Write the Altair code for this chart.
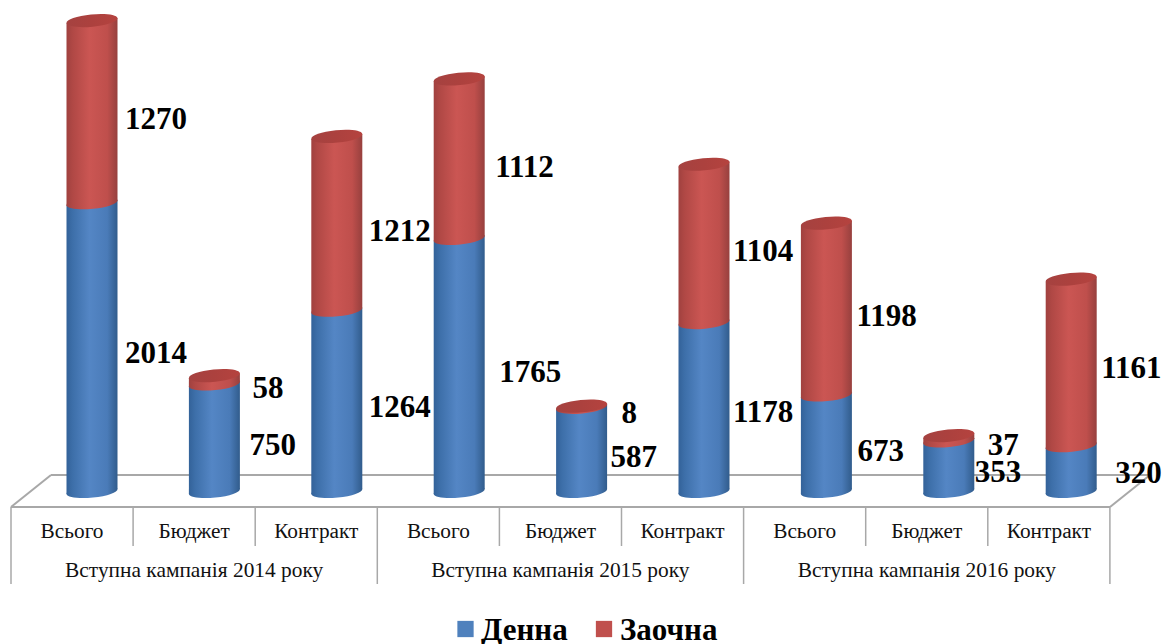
import altair as alt
import pandas as pd

# ---- values ----
subcats = ["Всього", "Бюджет", "Контракт"] * 3
campaigns = ["Вступна кампанія 2014 року", "Вступна кампанія 2015 року", "Вступна кампанія 2016 року"]
denna = [2014, 750, 1264, 1765, 587, 1178, 673, 353, 320]
zaochna = [1270, 58, 1212, 1112, 8, 1104, 1198, 37, 1161]
series = ["Денна", "Заочна"]

# ---- label nudges (px) from the segment midpoint / bar centre ----
denna_dx = [33, 35, 32, 40, 29, 29, 31, 26, 44]
denna_dy = [7, 8, 7, 8, 9, 6, 9, 7, 5]
zaochna_dx = [33, 38, 32, 36, 40, 29, 30, 39, 30]
zaochna_dy = [8, 9, 9, 9, 7, 9, 8, 8, 7]

W, H = 1154, 636
PX = 0.1434            # px per value
X0, STEP = 84.0, 122.4 # first bar centre, bar spacing
Y0 = 483.5             # zero line
FONT = "Liberation Serif"
HALF = 25.5 / STEP     # half bar width in index units
TILT = 2.5 / PX        # tilt of the cylinder ends in value units
TABLE_STEP = 122.1 / STEP   # table cells are slightly narrower than the bar spacing
TABLE_LEFT = -81.0 / STEP   # left table edge relative to the first bar centre

xs = alt.Scale(domain=[-X0 / STEP, (W - X0) / STEP], nice=False, zero=False)
ys = alt.Scale(domain=[(Y0 - H) / PX, Y0 / PX], nice=False, zero=False)
X = lambda f: alt.X(f, type="quantitative", scale=xs, axis=None)
Y = lambda f: alt.Y(f, type="quantitative", scale=ys, axis=None)

def grad(stops):
    return {"gradient": "linear", "x1": 0, "x2": 1, "y1": 0, "y2": 0,
            "stops": [{"offset": o, "color": c} for o, c in stops]}

BLUE = grad([(0, "#336299"), (0.12, "#3d6fa9"), (0.45, "#5486c5"), (0.8, "#4a7bb8"), (1, "#315c8c")])
RED = grad([(0, "#a0413f"), (0.12, "#b04845"), (0.45, "#cb5653"), (0.8, "#bf4f4c"), (1, "#97403e")])
CAP = grad([(0, "#a54240"), (0.5, "#ac413e"), (1, "#b5433f")])
ELL = "M-1,0.1 A1,0.24 -5.5 1 1 1,-0.1 A1,0.24 -5.5 1 1 -1,0.1 Z"
SIZE = 51 ** 2

bars = pd.DataFrame({"i": range(9), "d": denna, "z": zaochna,
                     "top": [a + b for a, b in zip(denna, zaochna)], "base": [0] * 9})

def body(lo, hi):
    out = []
    for i, (a, b) in enumerate(zip(lo, hi)):
        out.append(dict(bar=i, x=i - HALF, y=b - TILT, y2=a - TILT))
        out.append(dict(bar=i, x=i + HALF, y=b + TILT, y2=a + TILT))
    return pd.DataFrame(out)

tot = list(bars["top"])
LINE = "#a8a8a8"
layers = []
ONE = pd.DataFrame({"a": [0]})

def seg(x1, y1, x2, y2, w=2):
    return alt.Chart(ONE).mark_rule(color=LINE, strokeWidth=w).encode(
        x=alt.value(x1), y=alt.value(y1), x2=alt.value(x2), y2=alt.value(y2))

# floor
layers += [seg(43, 467, 1142, 467), seg(3, 499, 43, 467), seg(1102, 499, 1142, 467), seg(3, 499, 1102, 499)]

# table separators
edge = lambda k: TABLE_LEFT + k * TABLE_STEP
short = pd.DataFrame({"x": [edge(k) for k in range(10) if k % 3 != 0]})
long_ = pd.DataFrame({"x": [edge(k) for k in range(10) if k % 3 == 0]})
layers.append(alt.Chart(short).mark_rule(color=LINE, strokeWidth=1.5).encode(
    x=X("x"), y=alt.value(499), y2=alt.value(538)))
layers.append(alt.Chart(long_).mark_rule(color=LINE, strokeWidth=1.5).encode(
    x=X("x"), y=alt.value(499), y2=alt.value(576)))

# table text
t1 = pd.DataFrame({"x": [edge(i + 0.5) for i in range(9)], "t": subcats})
t2 = pd.DataFrame({"x": [edge(1.5 + 3 * k) for k in range(3)], "t": campaigns})
layers.append(alt.Chart(t1).mark_text(font=FONT, fontSize=21.3, color="#111", baseline="middle").encode(
    x=X("x"), y=alt.value(524), text="t:N"))
layers.append(alt.Chart(t2).mark_text(font=FONT, fontSize=21.4, color="#111", baseline="middle").encode(
    x=X("x"), y=alt.value(563), text="t:N"))

# cylinders
zeros = [0] * 9
layers.append(alt.Chart(body(zeros, denna)).mark_area(fill=BLUE, interpolate="linear", orient="vertical").encode(
    x=X("x"), y=Y("y"), y2="y2:Q", detail="bar:N"))
layers.append(alt.Chart(bars).mark_point(shape=ELL, filled=True, fill=BLUE, size=SIZE, opacity=1, strokeWidth=0).encode(
    x=X("i"), y=Y("base")))
layers.append(alt.Chart(body(denna, tot)).mark_area(fill=RED, interpolate="linear", orient="vertical").encode(
    x=X("x"), y=Y("y"), y2="y2:Q", detail="bar:N"))
layers.append(alt.Chart(bars).mark_point(shape=ELL, filled=True, fill=RED, size=SIZE, opacity=1, strokeWidth=0).encode(
    x=X("i"), y=Y("d")))
layers.append(alt.Chart(bars).mark_point(shape=ELL, filled=True, fill=CAP, size=SIZE, opacity=1, strokeWidth=0).encode(
    x=X("i"), y=Y("top")))

# value labels
def label(i, mid, val, dx, dy):
    df = pd.DataFrame({"x": [i], "y": [mid], "t": [str(val)]})
    return alt.Chart(df).mark_text(font=FONT, fontSize=31, fontWeight="bold", color="#000",
                                   align="left", baseline="middle", dx=dx, dy=dy).encode(
        x=X("x"), y=Y("y"), text="t:N")

for i in range(9):
    layers.append(label(i, denna[i] / 2, denna[i], denna_dx[i], denna_dy[i]))
    layers.append(label(i, denna[i] + zaochna[i] / 2, zaochna[i], zaochna_dx[i], zaochna_dy[i]))

# legend
for name, sx, tx, col in zip(series, [457.5, 596], [473, 612], ["#4f81bd", "#c0504d"]):
    layers.append(alt.Chart(ONE).mark_square(size=265, opacity=1, color=col).encode(
        x=alt.value(sx), y=alt.value(621)))
    layers.append(alt.Chart(ONE).mark_text(font=FONT, fontSize=31, fontWeight="bold", color="#000",
                                           align="left", baseline="middle", text=name).encode(
        x=alt.value(tx), y=alt.value(623)))

chart = alt.layer(*layers).properties(
    width=W, height=H, padding=0, autosize=alt.AutoSizeParams(type="none"),
).configure_view(stroke=None)

chart.save("out.html", embed_options={"renderer": "svg", "actions": False})
